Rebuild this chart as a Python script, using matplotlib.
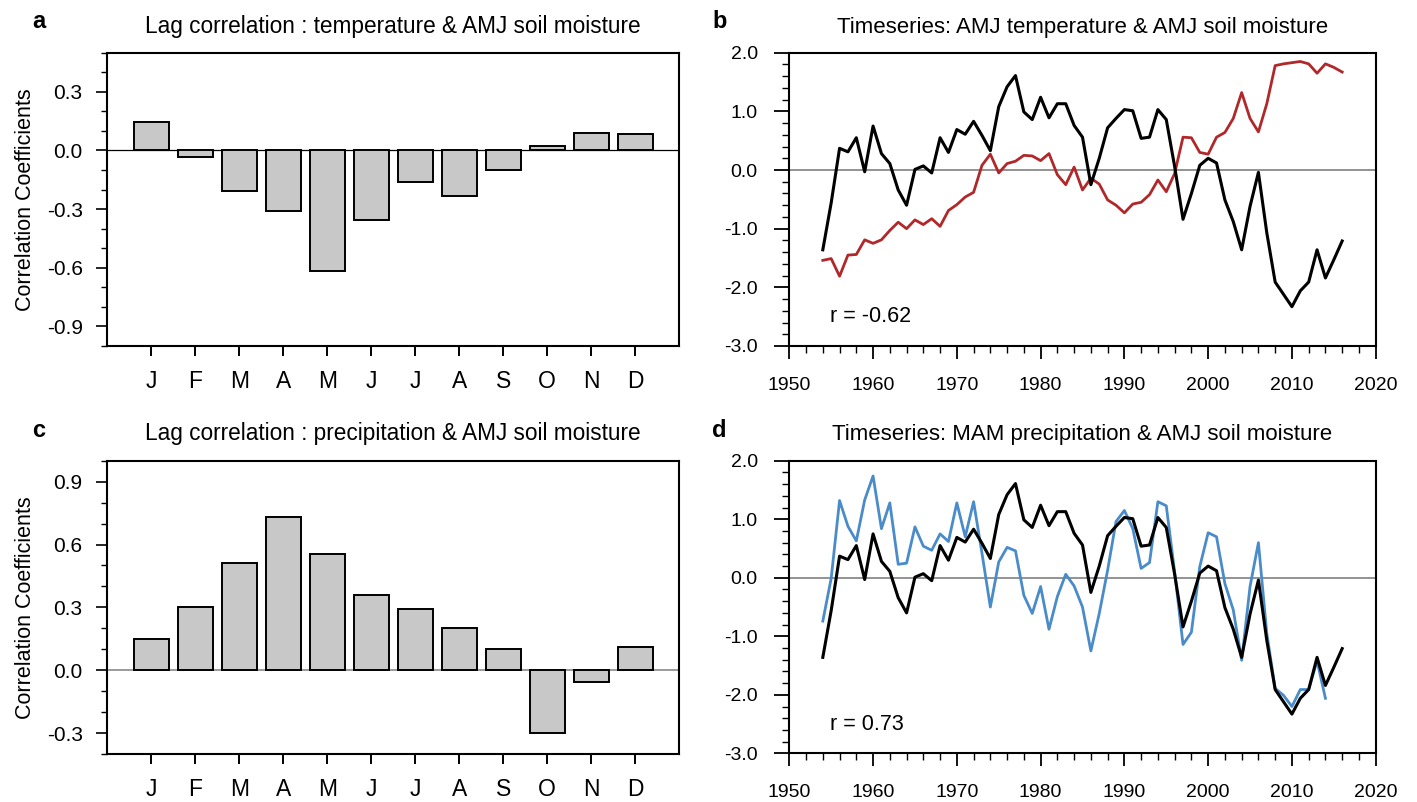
import numpy as np
import matplotlib
matplotlib.use("Agg")
import matplotlib.pyplot as plt
from matplotlib.ticker import MultipleLocator

# datos: correlaciones mensuales (barras)
meses = ["J", "F", "M", "A", "M", "J", "J", "A", "S", "O", "N", "D"]
corr_temp = [0.144, -0.032, -0.209, -0.309, -0.614, -0.357, -0.161, -0.232, -0.101, 0.024, 0.089, 0.085]
corr_prec = [0.147, 0.300, 0.514, 0.732, 0.554, 0.357, 0.290, 0.203, 0.100, -0.298, -0.054, 0.110]

# series de tiempo 1954-2016
anios = np.arange(1954, 2017)
humedad = [-1.36, -0.56, 0.37, 0.31, 0.55, -0.03, 0.75, 0.28, 0.11, -0.34,
           -0.60, 0.01, 0.07, -0.05, 0.55, 0.30, 0.69, 0.61, 0.83, 0.59,
           0.33, 1.08, 1.42, 1.61, 0.99, 0.86, 1.24, 0.89, 1.13, 1.13,
           0.76, 0.56, -0.25, 0.20, 0.72, 0.88, 1.03, 1.01, 0.54, 0.56,
           1.03, 0.86, 0.06, -0.84, -0.40, 0.08, 0.20, 0.12, -0.51, -0.88,
           -1.36, -0.62, -0.04, -1.07, -1.91, -2.12, -2.33, -2.06, -1.91, -1.36,
           -1.84, -1.53, -1.21]
temperatura = [-1.54, -1.51, -1.81, -1.45, -1.44, -1.19, -1.25, -1.19, -1.03, -0.89,
               -1.00, -0.85, -0.93, -0.83, -0.96, -0.69, -0.59, -0.46, -0.38, 0.08,
               0.27, -0.05, 0.11, 0.15, 0.25, 0.24, 0.16, 0.28, -0.08, -0.25,
               0.05, -0.34, -0.14, -0.24, -0.51, -0.60, -0.73, -0.58, -0.55, -0.42,
               -0.17, -0.37, -0.06, 0.56, 0.55, 0.30, 0.27, 0.56, 0.64, 0.88,
               1.32, 0.88, 0.65, 1.13, 1.78, 1.81, 1.83, 1.85, 1.81, 1.65,
               1.81, 1.75, 1.67]
precipitacion = [-0.74, -0.01, 1.32, 0.88, 0.63, 1.33, 1.74, 0.84, 1.28, 0.23,
                 0.25, 0.87, 0.54, 0.47, 0.75, 0.62, 1.28, 0.70, 1.30, 0.42,
                 -0.50, 0.27, 0.52, 0.46, -0.30, -0.61, -0.15, -0.88, -0.32, 0.06,
                 -0.14, -0.50, -1.25, -0.61, 0.13, 0.96, 1.15, 0.84, 0.16, 0.26,
                 1.30, 1.23, 0.10, -1.14, -0.93, 0.19, 0.77, 0.70, -0.10, -0.55,
                 -1.41, -0.15, 0.60, -0.95, -1.89, -2.01, -2.20, -1.91, -1.91, -1.42,
                 -2.06]

FUENTE = ["Liberation Sans", "DejaVu Sans"]
plt.rcParams["font.family"] = FUENTE

fig = plt.figure(figsize=(14.17, 8.02), dpi=100)


def barras(rect, valores, ylim, titulo, letra, ybase, ybase_letra, zcol, zlw):
    ax = fig.add_axes(rect)
    x = np.arange(1, 13)
    ax.bar(x, valores, width=0.8, color="#c8c8c8", edgecolor="black", linewidth=1.4, zorder=3)
    ax.axhline(0, color=zcol, lw=zlw, zorder=2)
    ax.set_xlim(0, 13)
    ax.set_ylim(*ylim)
    ax.set_xticks(x)
    ax.set_xticklabels(meses, fontsize=16.5)
    ax.yaxis.set_major_locator(MultipleLocator(0.3))
    ax.yaxis.set_minor_locator(MultipleLocator(0.1))
    ax.yaxis.set_major_formatter(plt.FormatStrFormatter("%.1f"))
    for lab in ax.get_yticklabels():
        lab.set_fontsize(15)
    ax.tick_params(axis="x", direction="out", length=7.2, width=1.4, pad=10)
    ax.tick_params(axis="y", which="major", direction="out", length=7.7, width=1.2, pad=10)
    ax.tick_params(axis="y", which="minor", direction="out", length=4, width=1.0)
    for s in ax.spines.values():
        s.set_linewidth(1.5)
    ax.set_ylabel("Correlation Coefficients", fontsize=15.5)
    ax.yaxis.set_label_coords(-0.125, 0.5)
    fig.text(rect[0] + rect[2] / 2, ybase, titulo, ha="center", va="baseline", fontsize=16.3)
    fig.text(0.0226, ybase_letra, letra, ha="left", va="baseline", fontsize=17, fontweight="bold")
    return ax


def series(rect, y2, col2, titulo, letra, ybase, ybase_letra, rtxt):
    ax = fig.add_axes(rect)
    ax.axhline(0, color="#808080", lw=1.2, zorder=1)
    ax.plot(anios[:len(y2)], y2, color=col2, lw=2.0, zorder=2)
    ax.plot(anios, humedad, color="black", lw=2.2, zorder=3)
    ax.set_xlim(1950, 2020)
    ax.set_ylim(-3, 2)
    ax.xaxis.set_major_locator(MultipleLocator(10))
    ax.xaxis.set_minor_locator(MultipleLocator(2))
    ax.yaxis.set_major_locator(MultipleLocator(1))
    ax.yaxis.set_minor_locator(MultipleLocator(0.2))
    ax.yaxis.set_major_formatter(plt.FormatStrFormatter("%.1f"))
    for lab in ax.get_xticklabels() + ax.get_yticklabels():
        lab.set_fontsize(14)
    ax.tick_params(axis="x", which="major", direction="out", length=9.4, width=1.3, pad=13)
    ax.tick_params(axis="x", which="minor", direction="out", length=5, width=1.0)
    ax.tick_params(axis="y", which="major", direction="out", length=10.8, width=1.3, pad=12)
    ax.tick_params(axis="y", which="minor", direction="out", length=5, width=1.0)
    for s in ax.spines.values():
        s.set_linewidth(1.5)
    ax.text(1954.8, -2.5, rtxt, ha="left", va="center", fontsize=15.5)
    fig.text(rect[0] + rect[2] / 2, ybase, titulo, ha="center", va="baseline", fontsize=16)
    fig.text(0.5025, ybase_letra, letra, ha="left", va="baseline", fontsize=17, fontweight="bold")
    return ax


barras([0.07572, 0.56858, 0.40367, 0.36571], corr_temp, (-1.0, 0.5),
       "Lag correlation : temperature & AMJ soil moisture", "a", 0.9589, 0.9645, "black", 0.9)
barras([0.07572, 0.05985, 0.40367, 0.36571], corr_prec, (-0.4, 1.0),
       "Lag correlation : precipitation & AMJ soil moisture", "c", 0.4514, 0.4551, "#808080", 1.1)
series([0.55702, 0.56858, 0.41383, 0.36571], temperatura, "#b0282a",
       "Timeseries: AMJ temperature & AMJ soil moisture", "b", 0.9592, 0.9645, "r = -0.62")
series([0.55702, 0.0607, 0.41383, 0.3648], precipitacion, "#4a8bc9",
       "Timeseries: MAM precipitation & AMJ soil moisture", "d", 0.4514, 0.4551, "r = 0.73")

plt.savefig("out.png", dpi=100)
